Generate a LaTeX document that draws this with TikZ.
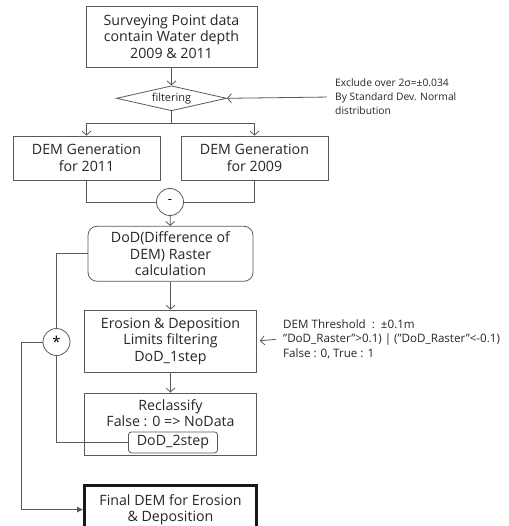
\documentclass[tikz,border=0pt]{standalone}
\usepackage{fontspec}
\setmainfont{Open Sans}
\usetikzlibrary{positioning,shapes.geometric,arrows.meta,calc}
\tikzset{
	>={Straight Barb[length=4pt,width=9pt]},
	punkt/.style={
		rectangle,
		draw=black!65, line width=0.8pt,
		minimum width=172pt,
		minimum height=62pt,
		align=center,
		text=black!85,
		font=\fontsize{14.2}{16.5}\selectfont},
	demkasten/.style={punkt, minimum width=147pt, minimum height=44pt},
	rundkasten/.style={punkt, rounded corners=9pt, minimum width=165pt, minimum height=55pt},
	kleinkasten/.style={punkt, rounded corners=3pt, minimum width=89pt, minimum height=21pt, inner sep=1pt},
	endkasten/.style={punkt, draw=black!90, line width=2.6pt, minimum width=172pt, minimum height=48pt},
	raute/.style={
		diamond, aspect=4.4,
		draw=black!65, line width=0.8pt,
		minimum width=110pt, minimum height=25pt,
		inner sep=0pt,
		text=black!85,
		font=\fontsize{11}{12}\selectfont},
	kreis/.style={circle, draw=black!65, line width=0.8pt, minimum size=27pt, inner sep=0pt,
		font=\fontsize{13}{14}\selectfont},
	notiz/.style={align=left, inner sep=4pt, text=black!85, font=\fontsize{10.3}{14}\selectfont},
	line/.style={draw=black!65, line width=0.8pt},
}

\begin{document}
\begin{tikzpicture}
	[x=1pt, y=-1pt]
	\useasboundingbox (0,0) rectangle (508,526);
	\node[punkt, minimum width=171pt, minimum height=61pt] (top) at (171.5,36.5) {Surveying Point data\\contain Water depth\\2009 \& 2011};
	\node[raute, below=18pt of top] (filt) {filtering};
	\node[notiz, anchor=west] (excl) at (331,97) {Exclude over 2σ=±0.034\\By Standard Dev. Normal\\distribution};
	\node[demkasten] (dem11) at (86.5,158) {DEM Generation\\for 2011};
	\node[demkasten] (dem09) at (254.5,158) {DEM Generation\\for 2009};
	\node[kreis] (minus) at (170,202) {-};
	\node[rundkasten, below=10pt of minus, xshift=0.5pt] (dod) {DoD(Difference of\\DEM) Raster\\calculation};
	\node[punkt, below=28pt of dod] (ero) {Erosion \& Deposition\\Limits filtering\\DoD\_1step};
	\node[notiz, anchor=west, font=\fontsize{11.6}{14.5}\selectfont] (thr) at (279,339) {DEM Threshold\ \ :\ \ ±0.1m\\"DoD\_Raster">0.1) | ("DoD\_Raster"<-0.1)\\False : 0, True : 1};
	\node[punkt, below=20pt of ero] (recl) {Reclassify\\False : 0 => NoData\\\strut};
	\node[kleinkasten, above=2pt of recl.south, xshift=2.5pt] (dod2) {DoD\_2step};
	\node[kreis, font=\fontsize{15}{15}\selectfont] (star) at (56.5,342) {*};
	\node[endkasten, below=29pt of recl] (final) {Final DEM for Erosion\\\& Deposition};

	\coordinate[below=12pt of filt.south] (fork);
	\draw[line, ->] (top) -- (filt);
	\draw[line, ->, shorten <=4pt] (excl.west) -- (filt.east);
	\draw[line] (filt.south) -- (fork);
	\draw[line, ->] (fork) -| (dem11.north);
	\draw[line, ->] (fork) -| (dem09.north);
	\draw[line] (dem11.south) |- (minus.west);
	\draw[line] (dem09.south) |- (minus.east);
	\draw[line, ->] (minus) -- (dod);
	\draw[line, ->] (dod) -- (ero);
	\draw[line, ->, shorten <=3pt, shorten >=3pt] (thr.west) -- (ero.east);
	\draw[line, ->] (ero) -- (recl);
	\draw[line] (dod.west) -| (star.north);
	\draw[line] (star.south) |- (dod2.west);
	\draw[line, -{Latex[length=6pt,width=6pt]}] (star.west) -- ++(-21pt,0) |- (final.west);
\end{tikzpicture}
\end{document}
